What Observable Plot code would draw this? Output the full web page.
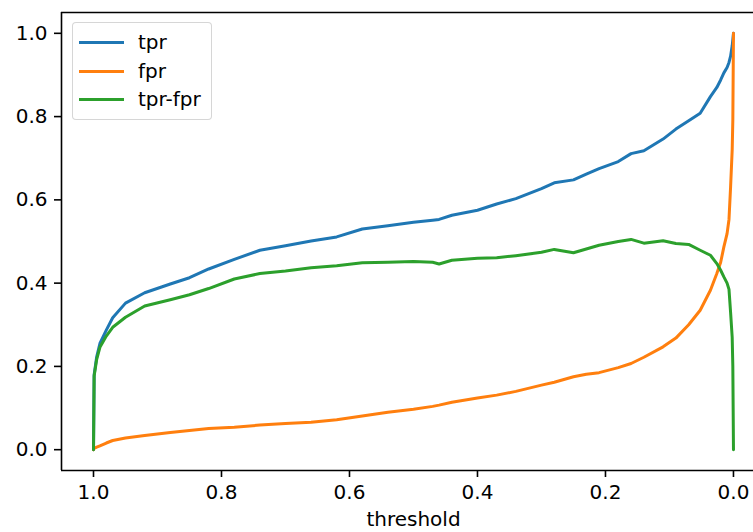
<!DOCTYPE html>
<html>
<head>
<meta charset="utf-8">
<script src="https://cdn.jsdelivr.net/npm/d3@7"></script>
<script src="https://cdn.jsdelivr.net/npm/@observablehq/plot@0.6"></script>
<style>
  html, body { margin: 0; padding: 0; background: #fff; }
  #wrap { position: relative; width: 753px; height: 532px; overflow: hidden; }
  #legend {
    position: absolute; left: 72px; top: 22px; width: 138px; height: 96px;
    border: 1px solid rgba(204,204,204,0.8); border-radius: 4px;
    background: rgba(255,255,255,0.8);
    font-family: "DejaVu Sans", sans-serif; font-size: 20px; color: #000;
  }
  .item { position: absolute; left: 0; height: 28px; width: 138px; }
  .swatch { position: absolute; left: 6px; width: 45px; height: 3px; top: 12px; }
  .lab { position: absolute; left: 65px; top: 0; line-height: 26px; white-space: nowrap; }
</style>
</head>
<body>
<div id="wrap">
  <div id="chart"></div>
  <div id="legend"></div>
</div>
<script>
// threshold values (x axis, reversed)
const thresholds = [1.0, 0.999, 0.995, 0.99, 0.98, 0.97, 0.95, 0.92, 0.88, 0.85, 0.82, 0.78, 0.74, 0.70, 0.66, 0.62, 0.58, 0.54, 0.50, 0.47, 0.46, 0.44, 0.40, 0.37, 0.34, 0.30, 0.28, 0.25, 0.23, 0.21, 0.18, 0.16, 0.14, 0.11, 0.09, 0.07, 0.052, 0.036, 0.026, 0.02, 0.015, 0.01, 0.007, 0.0045, 0.002, 0.001, 0.0];
const tpr = [0, 0.18, 0.223, 0.255, 0.287, 0.317, 0.352, 0.377, 0.398, 0.413, 0.434, 0.457, 0.479, 0.490, 0.501, 0.511, 0.530, 0.538, 0.546, 0.551, 0.553, 0.563, 0.575, 0.590, 0.603, 0.627, 0.641, 0.648, 0.662, 0.675, 0.692, 0.711, 0.718, 0.746, 0.770, 0.790, 0.808, 0.848, 0.870, 0.888, 0.905, 0.918, 0.930, 0.945, 0.970, 0.985, 1.0];
const fpr = [0, 0.003, 0.006, 0.009, 0.016, 0.022, 0.028, 0.034, 0.041, 0.046, 0.051, 0.054, 0.059, 0.063, 0.066, 0.072, 0.081, 0.090, 0.097, 0.104, 0.107, 0.114, 0.124, 0.131, 0.140, 0.155, 0.162, 0.175, 0.181, 0.185, 0.197, 0.207, 0.222, 0.247, 0.268, 0.300, 0.335, 0.383, 0.423, 0.450, 0.487, 0.519, 0.553, 0.631, 0.720, 0.792, 1.0];
const tprMinusFpr = [0, 0.177, 0.217, 0.246, 0.273, 0.294, 0.318, 0.345, 0.360, 0.372, 0.387, 0.410, 0.423, 0.429, 0.437, 0.442, 0.449, 0.450, 0.452, 0.450, 0.446, 0.455, 0.460, 0.461, 0.466, 0.474, 0.481, 0.473, 0.482, 0.491, 0.500, 0.505, 0.496, 0.502, 0.495, 0.493, 0.479, 0.467, 0.447, 0.431, 0.415, 0.400, 0.385, 0.330, 0.270, 0.200, 0];

const seriesNames = ["tpr", "fpr", "tpr-fpr"];
const seriesColors = ["#1f77b4", "#ff7f0e", "#2ca02c"];
const xTicks = [1.0, 0.8, 0.6, 0.4, 0.2, 0.0];
const yTicks = [0.0, 0.2, 0.4, 0.6, 0.8, 1.0];
const xLabel = "threshold";

const xDomain = [1.05, -0.0313];
const yDomain = [-0.05, 1.05];

const rows = thresholds.map((t, i) => ({t, tpr: tpr[i], fpr: fpr[i], diff: tprMinusFpr[i]}));
const keys = ["tpr", "fpr", "diff"];

const fmt = d3.format(".1f");
const chart = Plot.plot({
  width: 753,
  height: 532,
  marginLeft: 61,
  marginRight: 0,
  marginTop: 12,
  marginBottom: 62,
  style: {fontFamily: "DejaVu Sans, sans-serif", fontSize: "20px", color: "#000", background: "#fff", overflow: "visible"},
  x: {domain: xDomain},
  y: {domain: yDomain},
  marks: [
    Plot.axisX({ticks: xTicks, tickFormat: fmt, tickSize: 7, tickPadding: 7, label: null, fontSize: 20, strokeWidth: 1.6}),
    Plot.axisY({ticks: yTicks, tickFormat: fmt, tickSize: 7, tickPadding: 7, label: null, fontSize: 20, strokeWidth: 1.6}),
    ...keys.map((k, i) => Plot.line(rows, {x: "t", y: k, stroke: seriesColors[i], strokeWidth: 3, strokeLinejoin: "round"})),
    Plot.ruleX([xDomain[0]], {stroke: "#000", strokeWidth: 1.6}),
    Plot.ruleY([yDomain[0], yDomain[1]], {stroke: "#000", strokeWidth: 1.6}),
    Plot.text([xLabel], {x: (xDomain[0] + (-0.05)) / 2, frameAnchor: "bottom", dy: 55, fontSize: 20, fill: "#000", text: d => d})
  ]
});
document.getElementById("chart").appendChild(chart);

const legend = document.getElementById("legend");
seriesNames.forEach((name, i) => {
  const it = document.createElement("div");
  it.className = "item";
  it.style.top = (6 + i * 28.7) + "px";
  const sw = document.createElement("div");
  sw.className = "swatch";
  sw.style.background = seriesColors[i];
  const lb = document.createElement("div");
  lb.className = "lab";
  lb.textContent = name;
  it.appendChild(sw); it.appendChild(lb);
  legend.appendChild(it);
});
</script>
</body>
</html>
